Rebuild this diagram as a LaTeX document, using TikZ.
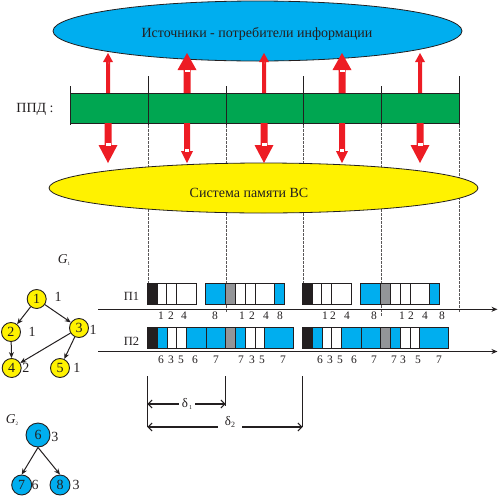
\documentclass[tikz,border=0pt]{standalone}
\usepackage{fontspec}
\setmainfont{Liberation Serif}
\usetikzlibrary{shapes.geometric,arrows.meta}

\definecolor{ink}{HTML}{231F20}
\definecolor{procblue}{HTML}{00AEEF}
\definecolor{busgreen}{HTML}{00A651}
\definecolor{memyellow}{HTML}{FFF200}
\definecolor{flowred}{HTML}{ED1C24}
\definecolor{slotgray}{HTML}{939598}

\tikzset{%
  every vertex/.style={
    circle,
    draw=ink,
    line width=0.9pt,
    inner sep=0pt,
    text=ink,
    font=\fontsize{14}{14}\selectfont
  },
  vertex g1/.style={fill=memyellow, minimum size=19pt},
  vertex g2/.style={fill=procblue, minimum size=20pt},
  vertex big/.style={minimum size=24pt},
  weight/.style={inner sep=0pt, text=ink, font=\fontsize{14}{14}\selectfont},
  cloud/.style={ellipse, draw=ink, line width=0.8pt, inner sep=0pt},
  slot/.style={draw=ink, line width=0.9pt},
  tick/.style={ink, line width=0.8pt},
  guide/.style={ink!75, line width=0.5pt, dash pattern=on 2.5pt off 1.5pt},
  timeaxis/.style={ink, line width=1pt, -{Stealth[length=6pt,width=5pt]}},
  span/.style={ink, line width=1.1pt, -{Straight Barb[length=4pt,width=8pt]}},
  digit/.style={inner sep=0pt, text=ink, font=\fontsize{11.5}{11.5}\selectfont},
}

\begin{document}
\begin{tikzpicture}[x=1pt, y=-1pt, >={Stealth[length=6pt,width=5pt]}]

\useasboundingbox (0,0) rectangle (499,496);

\foreach \x/\e in {148/283,226/313,303/283,381/317,459/313}
  \draw [guide] (\x,125) -- (\x,\e);

\node [cloud, fill=procblue, minimum width=409pt, minimum height=60pt] (src) at (257.5,31) {};
\node [cloud, fill=memyellow, minimum width=429pt, minimum height=50pt] (mem) at (263.5,188) {};

\node [draw=ink, line width=0.8pt, fill=busgreen, minimum width=389pt, minimum height=30pt,
  inner sep=0pt, anchor=north west] (bus) at (70,93) {};

\foreach \x/\t in {70/86,148/76,226/86,303/76,381/86,459/76}
  \draw [tick] (\x,\t) -- (\x,125);

\foreach \x/\s/\w/\l/\g in {108/2/5/9/0, 187/3.5/9.5/17/2.5, 264/2/5/9/0, 342/3.5/9.5/17/2.5, 420/2/5/9/0} {
  \fill [flowred] (\x-\s,93) -- (\x-\s,53+\l) -- (\x-\w,53+\l) -- (\x,53)
    -- (\x+\w,53+\l) -- (\x+\s,53+\l) -- (\x+\s,93) -- cycle;
  \fill [white] (\x-\g,53+\l-0.5) rectangle (\x+\g,53+\l+2);
}

\foreach \x/\s/\w/\l/\g in {108/3.5/9.5/18/2.5, 187/3/6/12/2, 264/3.5/9.5/18/2.5, 342/3/6/12/2, 420/3.5/9.5/18/2.5} {
  \fill [flowred] (\x-\s,123) -- (\x-\s,163-\l) -- (\x-\w,163-\l) -- (\x,163)
    -- (\x+\w,163-\l) -- (\x+\s,163-\l) -- (\x+\s,123) -- cycle;
  \fill [white] (\x-\g,163-\l+0.5) rectangle (\x+\g,163-\l-2);
}

\node [text=ink, font=\fontsize{14}{14}\selectfont] (src-name) at (257,34) {Источники - потребители информации};
\node [text=ink, font=\fontsize{14}{14}\selectfont] (mem-name) at (249,193) {Система памяти ВС};
\node [text=ink, font=\fontsize{14}{14}\selectfont] (bus-name) at (35,109) {ППД :};

\coordinate (p1-start) at (98,309.3);
\coordinate (p1-end) at (497.5,309.3);
\coordinate (p2-start) at (98,351.5);
\coordinate (p2-end) at (497.5,351.5);
\draw [timeaxis] (p1-start) -- (p1-end);
\draw [timeaxis] (p2-start) -- (p2-end);

\node [text=ink, font=\fontsize{12.5}{12.5}\selectfont] (p1-name) at (131.5,296.5) {П1};
\node [text=ink, font=\fontsize{12.5}{12.5}\selectfont] (p2-name) at (131.5,341.5) {П2};

\foreach \s in {0,155}
  \foreach \a/\b/\c in {147.7/157.7/ink, 157.7/166.7/white, 166.7/176.7/white, 176.7/196.7/white,
    205.7/225.3/procblue, 225.3/235.3/slotgray, 235.3/245/white, 245/255/white, 255/274.3/white, 274.3/284.3/procblue}
    \draw [slot, fill=\c] (\a+\s,283.3) rectangle (\b+\s,304);

\foreach \s in {0,155}
  \foreach \a/\b/\c in {147/157.3/ink, 157.3/167/procblue, 167/176.7/white, 176.7/186.7/white,
    186.7/206/procblue, 206/225.7/procblue, 225.7/235.7/slotgray, 235.7/245/procblue,
    245/255/white, 255/264.3/white, 264.3/293.7/procblue}
    \draw [slot, fill=\c] (\a+\s,327.7) rectangle (\b+\s,348.7);

\foreach \x/\t [count=\i] in {161/1,171/2,184/4,215/8,242/1,252/2,266/4,280/8,
    325/1,333/2,347/4,374/8,402/1,411/2,425/4,442/8}
  \node [digit] (p1-\i) at (\x,316) {\t};

\foreach \x/\t [count=\i] in {161/6,171/3,181/5,195/6,216/7,241/7,252/3,262/5,283/7,
    320/6,330/3,340/5,354/6,374/7,394/7,403/3,418/5,439/7}
  \node [digit] (p2-\i) at (\x,360) {\t};

\foreach \x/\e [count=\i] in {147.3/427,225.7/406,302.7/427}
  \draw [tick, line width=1.1pt] (\x,376) coordinate (mark-\i) -- (\x,\e);

\node [inner sep=3pt, text=ink, font=\fontsize{13}{13}\selectfont] (delta1) at (187,404)
  {δ\raisebox{-1.5pt}{\fontsize{6}{6}\selectfont\,1}};
\draw [span] (delta1.west) -- (delta1.west -| mark-1);
\draw [span] (delta1.east) -- (delta1.east -| mark-2);

\coordinate (span2) at (230,427);
\node [inner sep=7pt, text=ink, font=\fontsize{13}{13}\selectfont] (delta2) at (230,422)
  {δ\raisebox{-1.5pt}{\fontsize{8}{8}\selectfont 2}};
\draw [span] (delta2.west |- span2) -- (mark-1 |- span2);
\draw [span] (delta2.east |- span2) -- (mark-3 |- span2);

\node [text=ink, font=\fontsize{13.5}{13.5}\selectfont] (g1-name) at (64,260)
  {\textit{G}\raisebox{-2pt}{\fontsize{5}{5}\selectfont 1}};
\node [text=ink, font=\fontsize{13.5}{13.5}\selectfont] (g2-name) at (12,420)
  {\textit{G}\raisebox{-2pt}{\fontsize{5}{5}\selectfont 2}};

\foreach \n/\x/\y in {1/36.7/299, 2/11/332, 3/79/328, 4/11.7/368, 5/60/368}
  \node [every vertex, vertex g1] (g1-\n) at (\x,\y) {\n};

\foreach \n/\x/\y/\w in {1/58/297/1, 2/32/332/1, 3/93/330/1, 4/26/368/2, 5/77/368/1}
  \node [weight] (w1-\n) at (\x,\y) {\w};

\foreach \a/\b in {1/2,1/3,2/4,3/4,3/5}
  \draw [->, ink, line width=1pt] (g1-\a) -- (g1-\b);

\node [every vertex, vertex g2, vertex big] (g2-6) at (38,435) {6};
\foreach \n/\x in {7/21.7, 8/60}
  \node [every vertex, vertex g2] (g2-\n) at (\x,485) {\n};

\foreach \n/\x/\y/\w in {6/55/437/3, 7/35/485/6, 8/76/485/3}
  \node [weight] (w2-\n) at (\x,\y) {\w};

\foreach \b in {7,8}
  \draw [->, ink, line width=1pt] (g2-6.south) -- (g2-\b.north);

\end{tikzpicture}
\end{document}
